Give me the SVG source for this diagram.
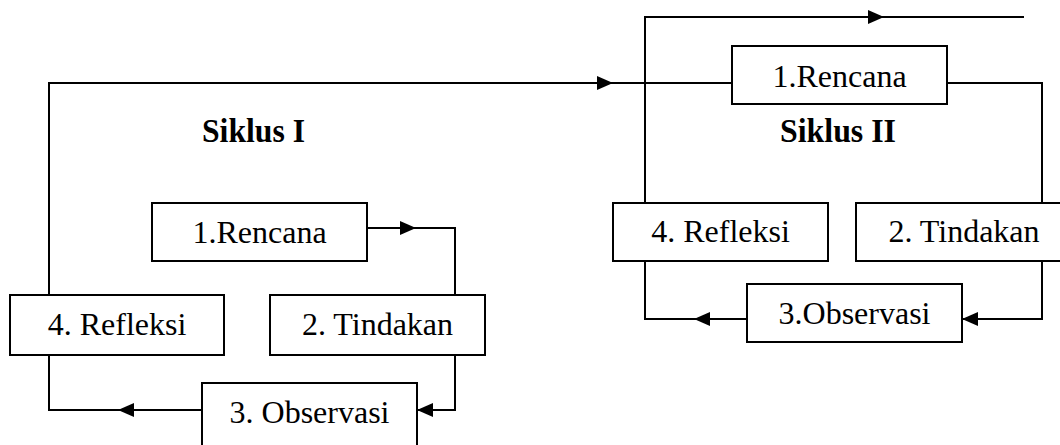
<svg xmlns="http://www.w3.org/2000/svg" width="1060" height="445" viewBox="0 0 1060 445">
<style>
.box{fill:#fff;stroke:#000;stroke-width:2}
text{font-family:'Liberation Serif','Times New Roman',Times,serif;fill:#000;text-anchor:middle}
.lbl{font-size:32px}
.ttl{font-size:34px;font-weight:bold}
.ln{fill:none;stroke:#000;stroke-width:2}
</style>
<defs>
<marker id="ah" markerUnits="userSpaceOnUse" markerWidth="16" markerHeight="14" refX="16" refY="7" orient="auto">
<path d="M0,0 L16,7 L0,14 z" fill="#000"/>
</marker>
</defs>
<rect width="1060" height="445" fill="#fff"/>
<g id="connectors">
<path class="ln" d="M49,295 V83 H613" marker-end="url(#ah)"/>
<path class="ln" d="M613,83 H732"/>
<path class="ln" d="M367,228 H416" marker-end="url(#ah)"/>
<path class="ln" d="M416,228 H455 V295"/>
<path class="ln" d="M455,355 V410 H417" marker-end="url(#ah)"/>
<path class="ln" d="M202,410 H118" marker-end="url(#ah)"/>
<path class="ln" d="M118,410 H49 V355"/>
<path class="ln" d="M645,202 V17 H884" marker-end="url(#ah)"/>
<path class="ln" d="M884,17 H1024"/>
<path class="ln" d="M947,83 H1042 V203"/>
<path class="ln" d="M1042,261 V319 H962" marker-end="url(#ah)"/>
<path class="ln" d="M747,319 H694" marker-end="url(#ah)"/>
<path class="ln" d="M694,319 H645 V261"/>
</g>
<g id="title1"><text class="ttl" font-family="Liberation Serif, serif" x="253.5" y="142" textLength="103" lengthAdjust="spacingAndGlyphs">Siklus I</text></g>
<g id="title2"><text class="ttl" font-family="Liberation Serif, serif" x="838" y="142" textLength="116" lengthAdjust="spacingAndGlyphs">Siklus II</text></g>
<g id="rencana1"><rect class="box" x="152" y="203" width="215" height="58"/><text class="lbl" x="259.5" y="243">1.Rencana</text></g>
<g id="refleksi1"><rect class="box" x="10" y="295" width="214" height="60"/><text class="lbl" x="117" y="335">4. Refleksi</text></g>
<g id="tindakan1"><rect class="box" x="270" y="295" width="215" height="60"/><text class="lbl" x="377.5" y="335">2. Tindakan</text></g>
<g id="observasi1"><rect class="box" x="202" y="383" width="215" height="70"/><text class="lbl" x="309.5" y="423">3. Observasi</text></g>
<g id="rencana2"><rect class="box" x="732" y="46" width="215" height="58"/><text class="lbl" x="839.5" y="87">1.Rencana</text></g>
<g id="refleksi2"><rect class="box" x="613" y="203" width="215" height="58"/><text class="lbl" x="720.5" y="242">4. Refleksi</text></g>
<g id="tindakan2"><rect class="box" x="856" y="203" width="216" height="58"/><text class="lbl" x="964" y="242">2. Tindakan</text></g>
<g id="observasi2"><rect class="box" x="747" y="284" width="215" height="58"/><text class="lbl" x="854.5" y="324">3.Observasi</text></g>
</svg>
